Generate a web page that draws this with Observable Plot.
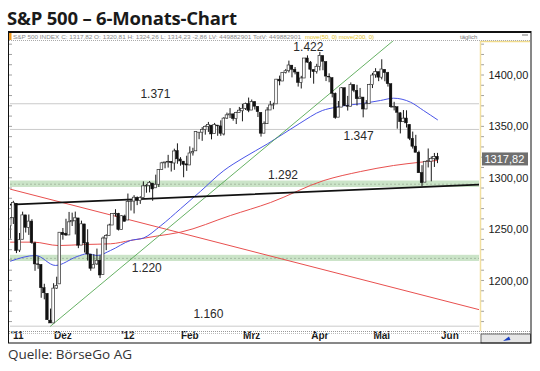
<!DOCTYPE html>
<html><head><meta charset="utf-8">
<script src="https://cdn.jsdelivr.net/npm/d3@7"></script>
<script src="https://cdn.jsdelivr.net/npm/@observablehq/plot@0.6"></script>
<style>
html,body{margin:0;padding:0;background:#fff;width:540px;height:371px;overflow:hidden;}
#title{position:absolute;left:7px;top:5px;font:700 18.5px "Open Sans",sans-serif;color:#1a1a1a;letter-spacing:-0.2px;white-space:nowrap;}
#chart{position:absolute;left:0;top:31px;}
#caption{position:absolute;left:8px;top:345px;font:400 13.5px "Open Sans",sans-serif;color:#333;white-space:nowrap;}
</style></head><body>
<div id="title">S&amp;P 500 – 6-Monats-Chart</div>
<div id="chart"></div>
<div id="caption">Quelle: BörseGo AG</div>
<script>
// ---- daily OHLC, 7 Nov 2011 – 25 May 2012 ----
const dates = [
"2011-11-07","2011-11-08","2011-11-09","2011-11-10","2011-11-11","2011-11-14","2011-11-15","2011-11-16","2011-11-17","2011-11-18","2011-11-21","2011-11-22","2011-11-23","2011-11-25","2011-11-28","2011-11-29","2011-11-30",
"2011-12-01","2011-12-02","2011-12-05","2011-12-06","2011-12-07","2011-12-08","2011-12-09","2011-12-12","2011-12-13","2011-12-14","2011-12-15","2011-12-16","2011-12-19","2011-12-20","2011-12-21","2011-12-22","2011-12-23","2011-12-27","2011-12-28","2011-12-29","2011-12-30",
"2012-01-03","2012-01-04","2012-01-05","2012-01-06","2012-01-09","2012-01-10","2012-01-11","2012-01-12","2012-01-13","2012-01-17","2012-01-18","2012-01-19","2012-01-20","2012-01-23","2012-01-24","2012-01-25","2012-01-26","2012-01-27","2012-01-30","2012-01-31",
"2012-02-01","2012-02-02","2012-02-03","2012-02-06","2012-02-07","2012-02-08","2012-02-09","2012-02-10","2012-02-13","2012-02-14","2012-02-15","2012-02-16","2012-02-17","2012-02-21","2012-02-22","2012-02-23","2012-02-24","2012-02-27","2012-02-28","2012-02-29",
"2012-03-01","2012-03-02","2012-03-05","2012-03-06","2012-03-07","2012-03-08","2012-03-09","2012-03-12","2012-03-13","2012-03-14","2012-03-15","2012-03-16","2012-03-19","2012-03-20","2012-03-21","2012-03-22","2012-03-23","2012-03-26","2012-03-27","2012-03-28","2012-03-29","2012-03-30",
"2012-04-02","2012-04-03","2012-04-04","2012-04-05","2012-04-09","2012-04-10","2012-04-11","2012-04-12","2012-04-13","2012-04-16","2012-04-17","2012-04-18","2012-04-19","2012-04-20","2012-04-23","2012-04-24","2012-04-25","2012-04-26","2012-04-27","2012-04-30",
"2012-05-01","2012-05-02","2012-05-03","2012-05-04","2012-05-07","2012-05-08","2012-05-09","2012-05-10","2012-05-11","2012-05-14","2012-05-15","2012-05-16","2012-05-17","2012-05-18","2012-05-21","2012-05-22","2012-05-23","2012-05-24","2012-05-25"];
const open = [
1253.21,1261.12,1275.18,1229.59,1240.12,1263.85,1251.70,1257.81,1236.56,1216.19,1215.62,1192.98,1187.48,1161.41,1158.67,1192.56,1196.72,
1246.91,1246.03,1244.33,1257.19,1258.14,1260.87,1234.48,1255.05,1236.83,1225.73,1212.12,1216.09,1219.74,1205.72,1241.25,1243.72,1254.00,1265.02,1265.38,1249.75,1262.82,
1258.86,1277.03,1277.30,1280.93,1277.83,1280.77,1292.02,1292.48,1294.82,1290.22,1293.65,1308.07,1314.49,1315.29,1315.96,1314.40,1326.28,1318.25,1316.16,1313.53,
1312.45,1324.24,1326.21,1344.32,1344.33,1347.04,1349.97,1351.21,1343.06,1351.30,1350.52,1342.61,1358.06,1361.22,1362.11,1357.53,1363.46,1365.20,1367.56,1372.20,
1365.90,1374.09,1369.59,1363.63,1343.39,1352.65,1365.97,1370.78,1371.92,1395.95,1394.17,1402.55,1404.17,1409.59,1405.52,1402.89,1392.78,1397.11,1416.55,1412.52,1405.39,1403.31,
1408.47,1418.98,1413.09,1398.79,1397.45,1382.18,1358.98,1368.77,1387.61,1370.27,1369.57,1390.78,1385.08,1376.96,1378.53,1366.97,1372.11,1390.64,1400.19,1403.26,
1397.86,1405.50,1402.32,1391.51,1368.79,1369.16,1363.20,1354.58,1358.11,1351.93,1338.36,1330.78,1324.82,1305.05,1295.73,1316.09,1316.02,1318.72,1320.81];
const high = [
1261.70,1277.55,1275.18,1246.22,1266.98,1263.85,1264.25,1259.61,1237.73,1223.51,1215.62,1196.81,1187.48,1172.66,1197.35,1203.67,1247.11,
1251.09,1260.08,1266.73,1266.03,1267.06,1260.87,1258.25,1255.05,1249.86,1225.73,1225.60,1231.04,1224.57,1242.82,1245.09,1255.22,1265.42,1269.37,1265.85,1263.54,1264.12,
1284.62,1278.73,1283.05,1281.84,1281.99,1296.46,1293.80,1296.82,1294.82,1303.00,1308.11,1315.49,1315.38,1322.28,1315.96,1328.30,1333.47,1320.06,1316.16,1321.41,
1330.52,1329.19,1345.34,1344.36,1349.24,1351.00,1354.32,1351.21,1353.35,1351.30,1355.87,1359.02,1363.40,1367.76,1362.70,1364.24,1368.92,1371.94,1373.09,1378.04,
1376.17,1374.53,1369.59,1363.63,1354.85,1368.72,1374.76,1373.04,1396.13,1399.42,1402.63,1405.88,1414.00,1409.59,1407.75,1402.89,1399.18,1416.58,1419.15,1413.65,1405.39,1410.89,
1422.38,1419.00,1413.09,1401.60,1397.45,1383.01,1374.71,1388.13,1387.61,1379.66,1392.76,1390.78,1390.46,1387.40,1378.53,1375.57,1391.37,1402.09,1406.64,1403.26,
1415.32,1405.50,1403.07,1391.51,1373.91,1369.16,1363.73,1365.88,1365.66,1351.93,1344.94,1341.78,1326.36,1312.24,1316.39,1328.49,1320.71,1324.14,1324.20];
const low = [
1240.75,1254.99,1226.64,1227.70,1240.12,1246.68,1244.34,1235.67,1209.43,1211.36,1183.16,1181.65,1161.79,1158.66,1158.67,1191.80,1196.72,
1239.73,1243.35,1244.33,1253.03,1244.80,1231.47,1234.48,1227.25,1219.43,1209.47,1212.12,1215.20,1202.37,1205.72,1229.51,1243.72,1254.00,1262.30,1248.64,1249.75,1257.46,
1258.86,1268.10,1265.26,1273.34,1274.55,1280.77,1285.41,1285.77,1277.58,1290.22,1290.99,1308.07,1309.17,1309.89,1306.06,1307.65,1313.60,1311.72,1300.49,1306.69,
1312.45,1321.57,1326.21,1337.52,1335.92,1341.95,1344.63,1337.35,1343.06,1340.83,1340.80,1341.22,1357.24,1358.11,1355.53,1352.28,1363.46,1354.92,1365.97,1363.81,
1365.90,1366.42,1359.13,1340.03,1343.39,1352.65,1365.97,1366.69,1371.92,1389.97,1394.17,1401.47,1402.43,1397.68,1400.64,1388.73,1386.87,1397.11,1411.95,1397.20,1391.56,1401.42,
1404.46,1404.62,1394.09,1392.92,1378.24,1357.38,1358.98,1368.77,1369.85,1365.38,1369.57,1383.29,1370.30,1376.96,1358.79,1366.82,1372.11,1387.28,1397.31,1394.00,
1395.73,1393.92,1388.71,1367.96,1365.54,1347.75,1343.13,1354.58,1348.89,1336.61,1328.41,1324.79,1304.86,1291.98,1295.73,1310.04,1296.53,1310.50,1314.23];
const close = [
1261.12,1275.92,1229.10,1239.70,1263.85,1251.78,1257.81,1236.91,1216.13,1215.65,1192.98,1188.04,1161.79,1158.67,1192.55,1195.19,1246.96,
1244.58,1244.28,1257.08,1258.47,1261.01,1234.35,1255.19,1236.47,1225.73,1211.82,1215.75,1219.66,1205.35,1241.30,1243.72,1254.00,1265.33,1265.43,1249.64,1263.02,1257.60,
1277.06,1277.30,1281.06,1277.81,1280.70,1292.08,1292.48,1295.50,1289.09,1293.67,1308.04,1314.50,1315.38,1316.00,1314.65,1326.06,1318.43,1316.33,1313.01,1312.41,
1324.09,1325.54,1344.90,1344.33,1347.05,1349.96,1351.95,1342.64,1351.77,1350.50,1343.23,1358.04,1361.23,1362.21,1357.66,1363.46,1365.74,1367.59,1372.18,1365.68,
1374.09,1369.63,1364.33,1343.36,1352.63,1365.91,1370.87,1371.09,1395.95,1394.28,1402.60,1404.17,1409.75,1405.52,1402.89,1392.78,1397.11,1416.51,1412.52,1405.54,1403.28,1408.47,
1419.04,1413.38,1398.96,1398.08,1382.20,1358.59,1368.71,1387.57,1370.26,1369.57,1390.78,1385.14,1376.92,1378.53,1366.94,1371.97,1390.69,1399.98,1403.36,1397.91,
1405.82,1402.31,1391.57,1369.10,1369.58,1363.72,1354.58,1357.99,1353.39,1338.35,1330.66,1324.80,1304.86,1295.22,1315.99,1316.63,1318.86,1320.68,1317.82];
const firstIndex = 4; // trading-day number of 7 Nov 2011, counted from 1 Nov 2011 = 0

// ---- moving averages (trading-day number, value) ----
const ma50Day = [4.1,12.2,18.6,25.6,28.9,32.1,36.4,42.8,47.1,52.5,59,65.4,73,79.5,87,97.3,104.8,109.1,112.3,117.1,123.6,127.8,133.3,137.5,142];
const ma50Val = [1219.3,1224.8,1215.1,1223.8,1226.5,1224.8,1229.7,1239.4,1241.9,1253.5,1270.3,1287.1,1307.5,1320.2,1333.3,1353,1365.9,1369.1,1370.8,1372.5,1375.7,1377.9,1374,1365.9,1356.9];
const ma200Day = [4.1,11.5,19.6,27.7,36.4,42.8,51.5,59,75.1,88.1,105.3,117.1,127.8,136.5,142];
const ma200Val = [1237.8,1237.8,1234.5,1235.5,1236.2,1239.4,1243.8,1247.5,1263.7,1276.4,1297.8,1306.5,1312.4,1315.6,1317.3];

// ---- drawn trend lines (two end points each) ----
const greenLineDay = [17,127.8],  greenLineVal = [1156,1434.1];
const redLineDay   = [4.08,155.57], redLineVal = [1289.3,1172.0];
const blackLineDay = [4.08,155.57], blackLineVal = [1274.4,1293.9];

// ---- horizontal levels and zones ----
const levelVals = [1372.5,1347.5,1156];
const zoneLow = [1291,1219], zoneHigh = [1297.3,1225], zoneMid = [1294.2,1222];
const labelText = ["1.422","1.371","1.347","1.292","1.220","1.160"];
const labelDay  = [100.3,50.9,116.5,92.1,48.1,68];
const labelVal  = [1427.3,1382.3,1340.6,1303.4,1212.5,1167.4];

// ---- axes ----
const monthLabels = ["'11","Dez","'12","Feb","Mrz","Apr","Mai","Jun"];
const monthDay = [0,21,42,62,82,104,124,146];
const yTicks = [1200,1250,1300,1350,1400];
const minorTicks = d3.range(1160,1431,10);
const lastClose = close[close.length-1];

const X0 = 4.08, X1 = 155.57;
const candles = dates.map((d,k)=>({i:k+firstIndex,o:open[k],h:high[k],l:low[k],c:close[k]}));
const up = candles.filter(d=>d.c>=d.o), down = candles.filter(d=>d.c<d.o);
const pts = (a,b)=>a.map((v,k)=>({i:v,p:b[k]}));
const zones = zoneLow.map((v,k)=>({lo:v,hi:zoneHigh[k],mid:zoneMid[k]}));
const labels = labelText.map((t,k)=>({t,i:labelDay[k],p:labelVal[k]}));
const months = monthLabels.map((t,k)=>({t,i:Math.max(monthDay[k],X0)}));
const FONT = '"Liberation Sans", Arial, sans-serif';

const chart = Plot.plot({
  width:540, height:313,
  marginLeft:10, marginRight:61, marginTop:10, marginBottom:14,
  x:{domain:[X0,X1], axis:null},
  y:{domain:[1151.8,1433.1], axis:null},
  style:{fontFamily:FONT, background:"transparent", overflow:"visible"},
  marks:[
    Plot.rect(zones,{x1:()=>X0,x2:()=>X1,y1:"lo",y2:"hi",fill:"#cbe4c8"}),
    Plot.ruleY(zones,{y:"mid",stroke:"#8da08a",strokeWidth:0.6,strokeDasharray:"2,2"}),
    Plot.ruleY(levelVals,{stroke:"#cacaca",strokeWidth:1}),
    Plot.line(pts(ma200Day,ma200Val),{x:"i",y:"p",stroke:"#e8504f",strokeWidth:1,curve:"monotone-x",clip:true}),
    Plot.line(pts(ma50Day,ma50Val),{x:"i",y:"p",stroke:"#4a55e8",strokeWidth:1,curve:"monotone-x",clip:true}),
    Plot.line(pts(redLineDay,redLineVal),{x:"i",y:"p",stroke:"#e8504f",strokeWidth:1,clip:true}),
    Plot.line(pts(greenLineDay,greenLineVal),{x:"i",y:"p",stroke:"#55a852",strokeWidth:0.9,clip:true}),
    Plot.line(pts(blackLineDay,blackLineVal),{x:"i",y:"p",stroke:"#111",strokeWidth:1.7,clip:true}),
    Plot.ruleX(candles,{x:"i",y1:"l",y2:"h",stroke:"#1a1a1a",strokeWidth:1,clip:true}),
    Plot.rect(up,{x1:d=>d.i-0.42,x2:d=>d.i+0.42,y1:"o",y2:"c",fill:"#fff",stroke:"#333",strokeWidth:0.7,clip:true}),
    Plot.rect(down,{x1:d=>d.i-0.42,x2:d=>d.i+0.42,y1:"o",y2:"c",fill:"#111",stroke:"#111",strokeWidth:0.5,clip:true}),
    Plot.text(labels,{x:"i",y:"p",text:"t",fontSize:12,fill:"#2a2a2a"}),
    Plot.text(yTicks,{y:d=>d,frameAnchor:"right",dx:9,textAnchor:"start",text:d=>d.toFixed(2).replace(".",","),fontSize:11,fill:"#1a1a1a"}),
    Plot.text(months.slice(0,1),{x:"i",text:"t",frameAnchor:"bottom",dy:8,textAnchor:"start",fontSize:10,fontWeight:"bold",fill:"#1a1a1a"}),
    Plot.text(months.slice(1),{x:"i",text:"t",frameAnchor:"bottom",dy:8,fontSize:10,fontWeight:"bold",fill:"#1a1a1a"})
  ]
});
document.getElementById("chart").appendChild(chart);

// ---- chart furniture ----
const svg = d3.select(chart);
const ys = chart.scale("y");
const txt = (x,y,size,fill,s)=>svg.append("text").attr("x",x).attr("y",y).attr("font-size",size)
  .attr("fill",fill).attr("font-family",FONT).attr("text-anchor","start").text(s);
// minor ticks on price panel and left edge
minorTicks.forEach(v=>{
  const y = ys.apply(v);
  svg.append("line").attr("x1",481).attr("x2",484).attr("y1",y).attr("y2",y).attr("stroke","#888").attr("stroke-width",0.8);
  svg.append("line").attr("x1",9).attr("x2",12).attr("y1",y).attr("y2",y).attr("stroke","#888").attr("stroke-width",0.8);
});
// price panel borders (pale yellow)
svg.append("line").attr("x1",480.5).attr("x2",480.5).attr("y1",10).attr("y2",300).attr("stroke","#f1dfa0").attr("stroke-width",1.5);
svg.append("line").attr("x1",480.5).attr("x2",530).attr("y1",10.5).attr("y2",10.5).attr("stroke","#f1dc8c").attr("stroke-width",1.5);
// last price box
const yl = ys.apply(lastClose);
svg.append("rect").attr("x",482).attr("y",yl-7).attr("width",46).attr("height",13).attr("fill","#6f6f6f");
txt(484.5,yl+3.8,11,"#fff",lastClose.toFixed(2).replace(".",","));
// bottom bar lines
svg.append("line").attr("x1",9).attr("x2",531).attr("y1",300.5).attr("y2",300.5).attr("stroke","#999").attr("stroke-dasharray","1,1");
svg.append("line").attr("x1",9).attr("x2",531).attr("y1",302.5).attr("y2",302.5).attr("stroke","#bbb").attr("stroke-dasharray","1,1");
// bottom right box
svg.append("rect").attr("x",481).attr("y",303).attr("width",49.5).attr("height",9).attr("fill","#e6e6e6").attr("stroke","#444").attr("stroke-width",0.8);
svg.append("path").attr("d","M503,310 L509,305.5 L510.5,309 Z").attr("fill","#1a3fc0");
// header
svg.append("line").attr("x1",8).attr("x2",531).attr("y1",1).attr("y2",1).attr("stroke","#111").attr("stroke-width",2);
svg.append("line").attr("x1",9).attr("x2",531).attr("y1",9.5).attr("y2",9.5).attr("stroke","#aaa").attr("stroke-dasharray","1,1");
svg.append("rect").attr("x",9).attr("y",2).attr("width",2.5).attr("height",7).attr("fill","#f39a1e");
txt(13,7.8,6,"#8a8a8a","S&P 500 INDEX C: 1317,82 O: 1320,81 H: 1324,26 L: 1314,23 -2,86 LV: 449882901 TotV: 449882901")
  .attr("textLength",288).attr("lengthAdjust","spacingAndGlyphs");
txt(305,7.8,6,"#e3c21c","move(50, 0) move(200, 0)");
txt(460,7.8,6,"#777","täglich");
svg.append("line").attr("x1",522).attr("x2",528).attr("y1",4).attr("y2",4).attr("stroke","#777");
// outer frame
svg.append("rect").attr("x",8.5).attr("y",0.5).attr("width",522.5).attr("height",311.5).attr("fill","none").attr("stroke","#111").attr("stroke-width",1);
</script></body></html>
